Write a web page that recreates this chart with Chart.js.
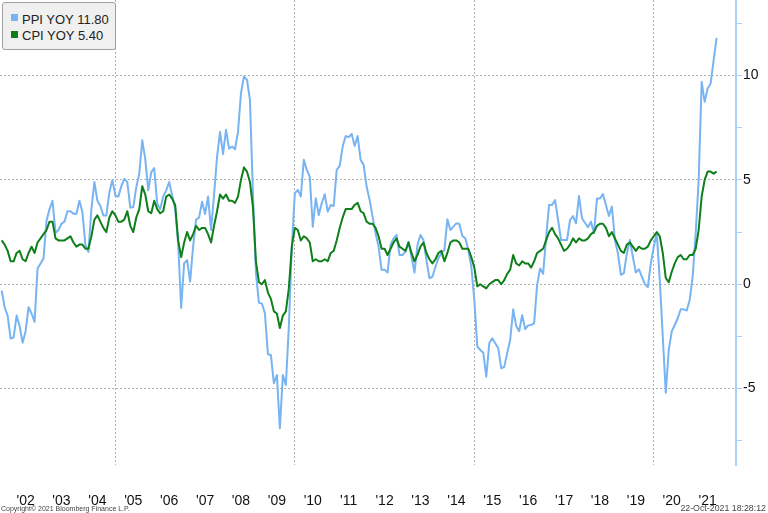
<!DOCTYPE html>
<html>
<head>
<meta charset="utf-8">
<script src="https://cdn.jsdelivr.net/npm/chart.js@4.4.1/dist/chart.umd.min.js"></script>
<style>
  html, body { margin: 0; padding: 0; background: #fff; }
  #wrap { position: relative; width: 768px; height: 513px; font-family: "Liberation Sans", Arial, sans-serif; }
  #legendBox { position: absolute; left: 2px; top: 2px; width: 112px; height: 46px; background: #f0f0f0; border: 1px solid #a0a0a0; border-radius: 3px; }
  .sw { position: absolute; left: 11px; width: 7px; height: 7px; }
  .lt { position: absolute; left: 22px; font-size: 13px; line-height: 15px; color: #222; white-space: nowrap; }
  #copy { position: absolute; left: 1px; top: 505px; font-size: 7px; line-height: 7px; color: #444; white-space: nowrap; }
  #stamp { position: absolute; right: 2px; top: 504px; font-size: 8.8px; line-height: 9px; color: #444; white-space: nowrap; }
</style>
</head>
<body>
<div id="wrap">
  <canvas id="chart" width="768" height="513"></canvas>
  <div id="legendBox"></div>
  <div class="sw" id="sw1" style="top:14px"></div>
  <div class="lt" id="lt1" style="top:12px"></div>
  <div class="sw" id="sw2" style="top:31px"></div>
  <div class="lt" id="lt2" style="top:28px"></div>
  <div id="copy">Copyright© 2021 Bloomberg Finance L.P.</div>
  <div id="stamp">22-Oct-2021 18:28:12</div>
</div>
<script>
// first data month is Oct 2001, one value per month up to Sep 2021
const startYear = 2001;
const startMonth = 10;

const ppiYoy = [
  -0.3, -1.1, -1.5,
  -2.6, -2.55, -1.5, -2.0, -2.8, -2.25, -1.1, -1.4, -1.8, 0.76, 1.0, 1.24,
  3.06, 3.6, 4.0, 2.46, 2.6, 2.9, 3.0, 3.5, 3.5, 3.38, 3.38, 4.0,
  3.45, 1.87, 1.55, 3.6, 4.9, 4.0, 3.75, 3.3, 3.3, 4.4, 5.0, 4.25,
  4.2, 4.7, 5.05, 4.9, 3.67, 3.7, 4.65, 5.3, 6.9, 6.0, 4.5, 5.36,
  5.57, 3.86, 3.6, 4.2, 4.5, 4.9, 4.25, 3.6, 1.95, -1.14, 1.0, 1.16,
  0.13, 1.8, 3.1, 3.2, 3.96, 3.37, 4.2, 2.6, 4.28, 6.1, 7.3, 6.24,
  7.4, 6.5, 6.6, 6.47, 7.3, 9.15, 9.95, 9.8, 8.83, 4.36, 0.53, -0.88,
  -0.93, -1.39, -3.34, -3.4, -4.74, -4.35, -6.9, -4.35, -4.83, -2.03, 1.8, 4.36,
  4.52, 4.2, 5.96, 5.48, 5.16, 2.76, 4.12, 3.32, 3.88, 4.31, 3.48, 3.8,
  3.75, 5.48, 5.67, 6.6, 7.1, 7.05, 7.2, 6.63, 7.1, 5.96, 5.72, 4.68,
  4.04, 3.24, 2.44, 1.8, 0.69, 0.7, 0.56, 1.88, 2.2, 2.36, 1.4, 1.4,
  1.56, 2.04, 1.32, 0.56, 1.88, 2.36, 2.12, 1.16, 0.29, 0.36, 0.84, 1.25,
  1.49, 1.64, 3.11, 2.6, 2.76, 2.92, 2.89, 2.31, 2.2, 1.64, 0.84, -0.75,
  -2.99, -3.15, -3.28, -4.43, -2.83, -2.59, -2.83, -3.07, -4.03, -3.96, -3.3, -2.66,
  -1.2, -2.0, -2.25, -1.47, -2.15, -1.97, -1.95, -1.87, -0.03, 0.75, 0.5, 2.25,
  3.8, 3.8, 4.03, 3.08, 2.12, 2.12, 2.12, 3.08, 3.27, 2.92, 4.23, 3.16,
  2.95, 2.73, 3.0, 2.44, 4.11, 4.11, 4.32, 3.8, 3.27, 3.72, 2.12, 1.48,
  0.45, 0.53, 1.48, 2.12, 1.32, 0.56, 0.72, 0.37, 0.02, -0.14, 1.0, 1.8,
  2.44, 0.2, -2.5, -5.2, -3.14, -2.26, -1.95, -1.63, -1.2, -1.2, -1.26, -0.75,
  0.37, 2.44, 4.99, 9.7, 8.74, 9.38, 9.62, 10.73, 11.8
];

const cpiYoy = [
  2.1, 1.9, 1.6,
  1.1, 1.1, 1.5, 1.6, 1.2, 1.1, 1.5, 1.8, 1.5, 2.0, 2.2, 2.4,
  2.6, 3.0, 3.0, 2.2, 2.1, 2.1, 2.1, 2.2, 2.3, 2.0, 1.8, 1.9,
  1.9, 1.7, 1.7, 2.3, 3.1, 3.3, 3.0, 2.7, 2.5, 3.2, 3.5, 3.3,
  3.0, 3.0, 3.1, 3.5, 2.8, 2.5, 3.2, 3.6, 4.7, 4.3, 3.5, 3.4,
  4.0, 3.6, 3.4, 3.5, 4.2, 4.3, 4.1, 3.8, 2.1, 1.3, 2.0, 2.5,
  2.1, 2.4, 2.8, 2.6, 2.7, 2.7, 2.4, 2.0, 2.8, 3.5, 4.3, 4.1,
  4.3, 4.0, 4.0, 3.9, 4.2, 5.0, 5.6, 5.4, 4.9, 3.7, 1.1, 0.1,
  0.0, 0.2, -0.4, -0.7, -1.3, -1.4, -2.1, -1.5, -1.3, -0.2, 1.8, 2.7,
  2.6, 2.1, 2.3, 2.2, 2.0, 1.1, 1.2, 1.1, 1.1, 1.2, 1.1, 1.5,
  1.6, 2.1, 2.7, 3.2, 3.6, 3.6, 3.6, 3.8, 3.9, 3.5, 3.4, 3.0,
  2.9, 2.9, 2.7, 2.3, 1.7, 1.7, 1.4, 1.7, 2.0, 2.2, 1.8, 1.7,
  1.6, 2.0, 1.5, 1.1, 1.4, 1.8, 2.0, 1.5, 1.2, 1.0, 1.2, 1.5,
  1.6, 1.1, 1.5, 2.0, 2.1, 2.1, 2.0, 1.7, 1.7, 1.7, 1.3, 0.8,
  -0.1, 0.0, -0.1, -0.2, 0.0, 0.1, 0.2, 0.2, 0.0, 0.2, 0.5, 0.7,
  1.4, 1.0, 0.9, 1.1, 1.0, 1.0, 0.8, 1.1, 1.5, 1.6, 1.7, 2.1,
  2.5, 2.7, 2.4, 2.2, 1.9, 1.6, 1.7, 1.9, 2.2, 2.0, 2.2, 2.1,
  2.1, 2.2, 2.4, 2.5, 2.8, 2.9, 2.9, 2.7, 2.3, 2.5, 2.2, 1.9,
  1.6, 1.5, 1.9, 2.0, 1.8, 1.6, 1.8, 1.7, 1.7, 1.8, 2.1, 2.3,
  2.5, 2.3, 1.5, 0.3, 0.1, 0.6, 1.0, 1.3, 1.4, 1.2, 1.2, 1.4,
  1.4, 1.7, 2.6, 4.2, 5.0, 5.4, 5.4, 5.3, 5.4
];

const yearLabels = ["'02", "'03", "'04", "'05", "'06", "'07", "'08", "'09", "'10", "'11",
                    "'12", "'13", "'14", "'15", "'16", "'17", "'18", "'19", "'20", "'21"];
const firstLabelYear = 2002;
const gridYears = [2005, 2010, 2015, 2020];
const yTicks = [-7.5, -5, -2.5, 0, 2.5, 5, 7.5, 10, 12.5];
const yLabelled = [-5, 0, 5, 10];

const ppiColor = '#78b4f2';
const cpiColor = '#0e7f19';
const axisBlue = '#a9d1f7';
const gridGrey = '#b0b0b0';
const xMin = 2001.787, xMax = 2022.29;
const yMin = -8.66, yMax = 13.62;

// monthly values sit on the last day of their month
function monthEnd(i) {
  return startYear + (startMonth + i) / 12;
}

document.getElementById('sw1').style.background = ppiColor;
document.getElementById('sw2').style.background = cpiColor;
document.getElementById('lt1').textContent = 'PPI YOY ' + ppiYoy[ppiYoy.length - 1].toFixed(2);
document.getElementById('lt2').textContent = 'CPI YOY ' + cpiYoy[cpiYoy.length - 1].toFixed(2);

const noPad = (scale) => {
  scale.paddingLeft = 0; scale.paddingRight = 0;
  scale.paddingTop = 0; scale.paddingBottom = 0;
};

new Chart(document.getElementById('chart').getContext('2d'), {
  type: 'line',
  data: {
    datasets: [
      {
        label: 'PPI YOY',
        data: ppiYoy.map((v, i) => ({ x: monthEnd(i), y: v })),
        borderColor: ppiColor,
        borderWidth: 2,
        borderJoinStyle: 'round',
        pointRadius: 0,
        tension: 0,
        order: 2,
      },
      {
        label: 'CPI YOY',
        data: cpiYoy.map((v, i) => ({ x: monthEnd(i), y: v })),
        borderColor: cpiColor,
        borderWidth: 2,
        borderJoinStyle: 'round',
        pointRadius: 0,
        tension: 0,
        order: 1,
      },
    ],
  },
  options: {
    responsive: false,
    devicePixelRatio: 1,
    animation: false,
    layout: { padding: 0 },
    plugins: {
      legend: { display: false },
      tooltip: { enabled: false },
    },
    scales: {
      x: {
        type: 'linear',
        position: 'bottom',
        min: xMin,
        max: xMax,
        afterBuildTicks: (scale) => {
          scale.ticks = yearLabels.map((_, j) => ({ value: firstLabelYear + j + 0.5 }));
        },
        ticks: {
          autoSkip: false,
          maxRotation: 0,
          padding: 20,
          color: '#111',
          font: { family: '"Liberation Sans", Arial, sans-serif', size: 14 },
          callback: (value, index) => yearLabels[index],
        },
        grid: { display: false },
        border: { display: false },
        afterFit: (scale) => { noPad(scale); scale.height = 48; },
      },
      xg: {
        type: 'linear',
        position: 'bottom',
        min: xMin,
        max: xMax,
        afterBuildTicks: (scale) => {
          scale.ticks = gridYears.map((v) => ({ value: v }));
        },
        ticks: { display: false },
        grid: { color: gridGrey, lineWidth: 1, drawTicks: false },
        border: { display: false, dash: [2, 2] },
        afterFit: (scale) => { noPad(scale); scale.height = 0; },
      },
      y: {
        type: 'linear',
        position: 'right',
        min: yMin,
        max: yMax,
        afterBuildTicks: (scale) => {
          scale.ticks = yTicks.map((v) => ({ value: v }));
        },
        ticks: {
          padding: 1,
          color: '#111',
          font: { family: '"Liberation Sans", Arial, sans-serif', size: 14 },
          callback: (value) => (yLabelled.includes(value) ? String(value) : ''),
        },
        grid: {
          color: (ctx) => (ctx.tick && yLabelled.includes(ctx.tick.value) ? gridGrey : 'rgba(0,0,0,0)'),
          lineWidth: 1,
          tickColor: axisBlue,
          tickLength: 6,
          tickBorderDash: [],
        },
        border: { display: true, color: axisBlue, width: 2, dash: [2, 2] },
        afterFit: (scale) => { noPad(scale); scale.width = 32; },
      },
    },
  },
});
</script>
</body>
</html>
